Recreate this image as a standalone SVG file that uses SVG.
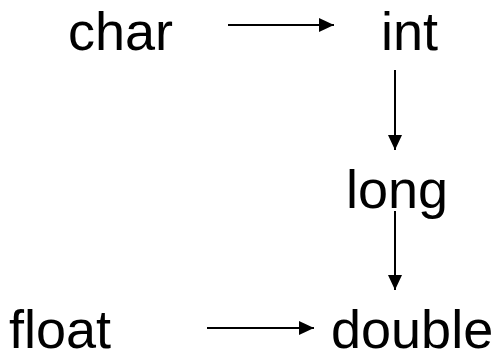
<svg xmlns="http://www.w3.org/2000/svg" width="500" height="361" viewBox="0 0 500 361">
  <style>
    .lbl { font-family: "Liberation Sans", Arial, sans-serif; font-size: 54px; fill: #000; }
    .edge { stroke: #000; stroke-width: 2; fill: none; marker-end: url(#head); }
  </style>
  <defs>
    <marker id="head" markerUnits="userSpaceOnUse" markerWidth="16" markerHeight="14" refX="15" refY="7" orient="auto">
      <path d="M0,0 L15,7 L0,14 Z" fill="#000"/>
    </marker>
  </defs>
  <rect width="500" height="361" fill="#fff"/>

  <g id="node-char"><text class="lbl" x="68" y="50">char</text></g>
  <g id="node-int"><text class="lbl" x="381" y="50">int</text></g>
  <g id="node-long"><text class="lbl" x="346" y="208">long</text></g>
  <g id="node-float"><text class="lbl" x="9" y="348">float</text></g>
  <g id="node-double"><text class="lbl" x="331" y="348">double</text></g>

  <g id="connectors">
    <line class="edge" x1="228" y1="25" x2="334" y2="25"/>
    <line class="edge" x1="395" y1="70" x2="395" y2="150"/>
    <line class="edge" x1="395" y1="211" x2="395" y2="290"/>
    <line class="edge" x1="207" y1="328" x2="314" y2="328"/>
  </g>
</svg>
